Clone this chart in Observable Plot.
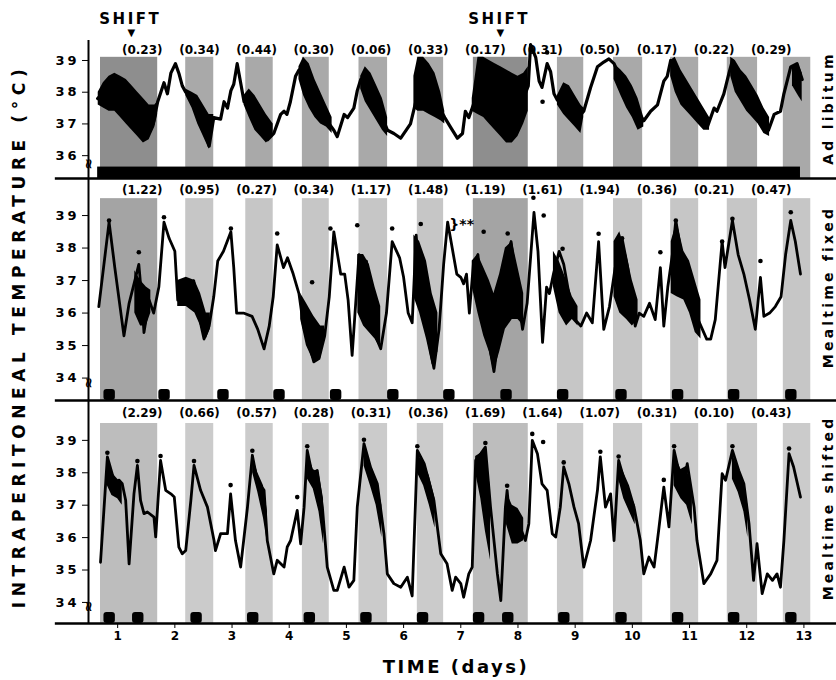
<!DOCTYPE html>
<html><head><meta charset="utf-8">
<script src="https://cdn.jsdelivr.net/npm/d3@7"></script>
<script src="https://cdn.jsdelivr.net/npm/@observablehq/plot@0.6"></script>
<style>
body{margin:0;background:#fff;}
#chart{position:relative;width:836px;height:680px;overflow:hidden;font-family:"DejaVu Sans",sans-serif;background:#fff;}
.panel{position:absolute;left:0;}
.vlabel{position:absolute;white-space:nowrap;font-weight:bold;transform:translate(-50%,-50%) rotate(-90deg);color:#000;}
.hlabel{position:absolute;white-space:nowrap;font-weight:bold;transform:translate(-50%,-50%);color:#000;}
</style>
</head><body>
<div id="chart">
  <div id="p1" class="panel" style="top:0px"></div>
  <div id="p2" class="panel" style="top:176px"></div>
  <div id="p3" class="panel" style="top:398px"></div>
  <div id="ytitle" class="vlabel" style="left:19px;top:336px;font-size:17px;letter-spacing:5.6px"></div>
  <div id="xtitle" class="hlabel" style="left:456px;top:666px;font-size:18px;letter-spacing:2.5px"></div>
  <div id="n1" class="vlabel" style="left:828px;top:108px;font-size:14px;letter-spacing:3.2px"></div>
  <div id="n2" class="vlabel" style="left:828px;top:287px;font-size:14px;letter-spacing:3.2px"></div>
  <div id="n3" class="vlabel" style="left:828px;top:508px;font-size:14px;letter-spacing:3.2px"></div>
</div>
<script>
// ---------------- data ----------------
const yTitle = "INTRAPERITONEAL TEMPERATURE (°C)";
const xTitle = "TIME (days)";
const panelNames = ["Ad libitum", "Mealtime fixed", "Mealtime shifted"];
const xTicks = [1,2,3,4,5,6,7,8,9,10,11,12,13];
const p1Ticks = [36,37,38,39];
const p23Ticks = [34,35,36,37,38,39];
const shiftDays = [1.22, 7.67];
const nightBands = [[0.70,1.70],[2.19,2.68],[3.24,3.72],[4.23,4.70],[5.22,5.72],[6.24,6.70],[7.22,8.18],[8.69,9.15],[9.67,10.18],[10.67,11.16],[11.66,12.19],[12.64,13.12]];
const ratioDays = [1,2,3,4,5,6,7,8,9,10,11,12];
const p1Ratios = ["(0.23)","(0.34)","(0.44)","(0.30)","(0.06)","(0.33)","(0.17)","(0.31)","(0.50)","(0.17)","(0.22)","(0.29)"];
const p2Ratios = ["(1.22)","(0.95)","(0.27)","(0.34)","(1.17)","(1.48)","(1.19)","(1.61)","(1.94)","(0.36)","(0.21)","(0.47)"];
const p3Ratios = ["(2.29)","(0.66)","(0.57)","(0.28)","(0.31)","(0.36)","(1.69)","(1.64)","(1.07)","(0.31)","(0.10)","(0.43)"];
const p1Feeding = [[0.65, 12.94]];
const p2Meals = [0.76,1.72,2.75,3.73,4.72,5.72,6.70,7.70,8.69,9.71,10.70,11.68,12.68];
const p3Meals = [0.76,1.26,2.28,3.27,4.26,5.25,6.24,7.22,7.73,8.71,9.71,10.70,11.68,12.68];

const p1Temp = [[0.65,37.8],[0.8,38.1],[1.0,38.0],[1.2,37.6],[1.4,37.0],[1.5,36.6],[1.62,37.0],[1.70,37.7],[1.81,38.3],[1.87,37.95],[1.93,38.6],[2.01,38.9],[2.07,38.6],[2.13,38.2],[2.19,38.0],[2.3,37.8],[2.4,37.5],[2.5,37.0],[2.6,36.3],[2.68,37.2],[2.80,37.15],[2.86,37.7],[2.92,37.5],[2.98,38.05],[3.03,38.25],[3.09,38.9],[3.14,38.4],[3.21,37.7],[3.35,37.6],[3.5,37.1],[3.62,36.5],[3.73,36.7],[3.85,37.3],[3.91,37.4],[3.96,37.3],[4.02,37.7],[4.11,38.5],[4.17,38.7],[4.25,38.8],[4.4,38.2],[4.55,37.6],[4.7,37.0],[4.78,36.8],[4.84,36.6],[4.96,37.3],[5.02,37.2],[5.13,37.5],[5.19,38.05],[5.25,38.4],[5.35,38.5],[5.5,37.8],[5.65,37.1],[5.72,36.8],[5.83,36.7],[5.95,36.55],[6.12,37.0],[6.2,37.6],[6.3,38.4],[6.45,38.2],[6.6,37.6],[6.72,37.2],[6.82,36.9],[6.94,36.55],[7.03,36.7],[7.08,37.4],[7.14,37.2],[7.2,37.5],[7.35,38.3],[7.55,37.8],[7.75,37.2],[7.9,37.1],[8.05,37.6],[8.18,38.2],[8.22,39.5],[8.31,39.1],[8.37,38.35],[8.42,38.15],[8.51,38.9],[8.57,38.65],[8.63,37.95],[8.69,37.75],[8.85,37.6],[9.05,37.2],[9.15,37.4],[9.27,38.15],[9.39,38.8],[9.5,38.95],[9.59,39.05],[9.68,38.9],[9.85,38.2],[10.05,37.5],[10.2,37.1],[10.32,37.4],[10.44,37.6],[10.55,38.35],[10.61,38.5],[10.67,39.0],[10.8,38.5],[11.0,37.9],[11.2,37.3],[11.31,36.9],[11.43,37.5],[11.48,37.4],[11.6,37.95],[11.69,38.6],[11.75,39.0],[11.9,38.3],[12.1,37.7],[12.3,37.1],[12.38,36.8],[12.48,37.3],[12.59,37.4],[12.65,37.95],[12.77,38.8],[12.88,38.9],[12.97,38.4]];
const p1Blobs = [
  [[0.66,37.6,38.0],[0.75,37.5,38.3],[0.85,37.4,38.5],[0.95,37.4,38.6],[1.05,37.2,38.5],[1.15,37.0,38.4],[1.25,36.8,38.2],[1.35,36.6,38.0],[1.45,36.4,37.8],[1.55,36.5,37.6],[1.65,36.9,37.6],[1.70,37.3,37.7]],
  [[2.19,37.9,38.1],[2.3,37.5,38.0],[2.4,37.0,37.9],[2.5,36.6,37.6],[2.6,36.2,37.3],[2.68,37.0,37.3]],
  [[3.21,37.6,37.9],[3.3,37.2,38.1],[3.4,36.8,37.9],[3.5,36.6,37.6],[3.6,36.4,37.3],[3.72,36.6,37.0]],
  [[4.17,38.4,38.8],[4.25,37.9,39.1],[4.35,37.5,38.9],[4.45,37.2,38.4],[4.55,37.0,38.0],[4.65,36.9,37.6],[4.75,36.7,37.2]],
  [[5.25,38.1,38.5],[5.33,37.7,38.8],[5.43,37.4,38.6],[5.53,37.1,38.2],[5.63,36.8,37.8],[5.72,36.6,37.2]],
  [[6.18,37.5,38.5],[6.25,37.4,39.1],[6.35,37.4,39.1],[6.45,37.3,38.9],[6.55,37.2,38.6],[6.65,37.1,38.0],[6.72,37.0,37.4]],
  [[7.2,37.4,37.8],[7.3,37.3,39.1],[7.4,37.2,39.1],[7.5,37.0,39.0],[7.6,36.8,38.9],[7.7,36.6,38.8],[7.8,36.4,38.7],[7.9,36.4,38.6],[8.0,36.6,38.5],[8.1,37.0,38.6],[8.18,37.4,38.8]],
  [[8.69,37.6,37.9],[8.8,37.3,38.3],[8.9,37.1,38.2],[9.0,36.9,37.9],[9.1,36.7,37.6],[9.15,37.2,37.5]],
  [[9.68,38.4,38.9],[9.8,37.9,38.7],[9.9,37.5,38.5],[10.0,37.2,38.2],[10.1,36.8,37.8],[10.2,36.9,37.2]],
  [[10.67,38.5,39.0],[10.75,38.0,39.1],[10.85,37.6,38.7],[10.95,37.4,38.4],[11.05,37.2,38.1],[11.15,37.0,37.8],[11.25,36.8,37.5],[11.35,36.8,37.2]],
  [[11.72,38.5,39.1],[11.8,38.0,39.0],[11.9,37.7,38.7],[12.0,37.4,38.5],[12.1,37.2,38.2],[12.2,37.0,37.9],[12.3,36.7,37.5],[12.4,36.6,37.2]],
  [[12.8,38.2,38.8],[12.9,37.9,38.9],[12.97,37.7,38.6]]
];
const p1Stars = [[8.51,39.25],[8.43,37.7]];

const p2Temp = [[0.67,36.2],[0.85,38.8],[0.95,37.4],[1.11,35.3],[1.2,36.3],[1.3,37.0],[1.37,37.5],[1.42,36.5],[1.46,35.4],[1.55,36.4],[1.63,36.0],[1.72,36.8],[1.81,38.8],[1.9,38.3],[2.0,37.9],[2.05,36.4],[2.1,36.9],[2.15,36.3],[2.2,37.0],[2.27,36.4],[2.33,37.0],[2.4,36.2],[2.46,35.6],[2.51,35.2],[2.6,35.6],[2.68,36.5],[2.75,37.6],[2.85,37.9],[2.98,38.5],[3.03,37.4],[3.08,36.0],[3.2,36.0],[3.35,35.9],[3.45,35.5],[3.56,34.9],[3.65,35.6],[3.72,36.5],[3.79,38.1],[3.9,37.4],[3.97,37.7],[4.07,37.2],[4.17,36.6],[4.25,35.6],[4.35,35.0],[4.43,34.5],[4.52,34.6],[4.62,35.3],[4.7,36.5],[4.78,38.5],[4.9,37.2],[4.97,37.2],[5.03,36.4],[5.1,34.7],[5.17,36.5],[5.22,37.8],[5.3,36.0],[5.35,37.6],[5.45,36.0],[5.53,35.2],[5.6,34.9],[5.7,36.0],[5.8,38.2],[5.93,37.7],[6.0,37.1],[6.08,36.0],[6.15,35.7],[6.22,38.4],[6.3,36.5],[6.4,35.5],[6.53,34.3],[6.62,35.5],[6.7,37.5],[6.77,38.8],[6.85,38.0],[6.93,37.2],[7.0,37.1],[7.05,36.9],[7.1,37.2],[7.15,36.0],[7.22,37.5],[7.3,37.8],[7.4,36.0],[7.5,35.0],[7.58,34.2],[7.68,35.5],[7.78,37.6],[7.88,38.2],[8.0,36.5],[8.08,35.5],[8.16,36.3],[8.28,39.1],[8.35,37.9],[8.43,35.1],[8.5,36.8],[8.55,36.6],[8.62,37.2],[8.72,37.9],[8.8,37.5],[8.9,36.5],[9.0,35.8],[9.1,35.6],[9.2,36.0],[9.3,35.7],[9.41,38.2],[9.5,35.5],[9.6,36.2],[9.7,37.4],[9.82,38.3],[9.92,37.4],[10.05,35.6],[10.12,36.0],[10.2,35.9],[10.3,36.3],[10.4,35.8],[10.49,37.4],[10.55,35.6],[10.62,36.8],[10.7,37.8],[10.76,38.85],[10.85,37.9],[10.95,37.3],[11.05,36.5],[11.15,35.8],[11.3,35.2],[11.37,35.2],[11.45,35.8],[11.57,38.2],[11.62,37.4],[11.75,38.85],[11.85,37.8],[11.95,37.2],[12.05,36.4],[12.15,35.5],[12.24,37.1],[12.3,35.9],[12.4,36.0],[12.5,36.2],[12.6,36.5],[12.68,37.8],[12.77,38.85],[12.85,38.2],[12.94,37.2]];
const p2Blobs = [
  [[1.3,36.0,37.3],[1.4,35.6,37.0],[1.5,35.6,36.8],[1.58,36.0,36.7]],
  [[2.05,36.2,37.0],[2.2,36.2,37.1],[2.35,36.0,37.0],[2.45,35.6,36.6],[2.55,35.2,36.0],[2.62,35.5,36.0]],
  [[4.2,35.8,36.6],[4.3,35.0,36.3],[4.43,34.5,35.9],[4.55,34.6,35.6],[4.62,35.2,35.6]],
  [[5.2,36.0,37.8],[5.3,35.6,37.8],[5.4,35.4,37.5],[5.5,35.2,36.8],[5.6,34.9,36.2]],
  [[6.18,36.5,38.4],[6.28,36.0,38.2],[6.4,35.2,37.6],[6.5,34.4,36.6],[6.6,34.8,36.0]],
  [[7.2,36.8,37.6],[7.3,36.0,37.8],[7.4,35.3,37.4],[7.5,34.8,37.0],[7.58,34.2,36.6],[7.68,34.8,37.2],[7.78,35.5,38.0],[7.9,35.8,38.2],[8.0,35.8,37.4],[8.1,35.6,36.6]],
  [[8.62,36.8,37.9],[8.72,36.0,37.6],[8.85,35.6,37.0],[8.95,35.8,36.5],[9.05,35.6,36.2]],
  [[9.68,36.5,38.2],[9.78,36.0,38.5],[9.9,35.8,37.8],[10.0,35.6,37.0],[10.1,35.8,36.4]],
  [[10.68,36.6,38.2],[10.78,36.5,38.8],[10.9,36.4,37.9],[11.0,36.0,37.6],[11.1,35.4,37.0],[11.2,35.2,36.4]]
];
const p2Stars = [[0.85,38.85],[1.37,37.87],[1.81,38.95],[2.98,38.6],[3.79,38.45],[4.40,36.95],[4.72,38.6],[5.19,38.7],[5.80,38.6],[6.30,38.74],[7.40,38.5],[7.82,38.45],[8.27,39.55],[8.45,39.0],[8.78,37.98],[9.41,38.44],[9.82,38.3],[10.49,37.87],[10.76,38.85],[11.57,38.2],[11.75,38.9],[12.24,37.6],[12.77,39.1]];
const p2Note = [{d: 6.8, t: 38.72, label: "}**"}];

const p3Temp = [[0.70,35.24],[0.82,38.49],[0.935,37.77],[0.995,37.35],[1.025,37.77],[1.08,37.66],[1.14,37.15],[1.20,35.19],[1.285,37.35],[1.345,38.23],[1.40,37.15],[1.46,36.74],[1.52,36.79],[1.635,36.63],[1.665,36.02],[1.75,38.38],[1.84,37.46],[1.93,37.35],[1.99,37.25],[2.07,35.71],[2.13,35.5],[2.19,35.6],[2.28,37.15],[2.335,38.23],[2.45,37.46],[2.57,36.94],[2.685,35.91],[2.71,35.6],[2.80,36.12],[2.92,36.12],[2.975,37.35],[3.06,35.91],[3.15,35.09],[3.27,36.94],[3.355,38.54],[3.44,37.77],[3.56,37.46],[3.616,35.91],[3.73,34.88],[3.79,35.3],[3.91,35.09],[3.965,35.71],[4.025,35.91],[4.14,36.84],[4.2,35.81],[4.26,36.94],[4.315,38.69],[4.40,37.97],[4.49,38.07],[4.58,36.94],[4.665,35.09],[4.78,34.37],[4.84,34.37],[4.96,35.09],[5.045,34.47],[5.13,34.68],[5.19,36.94],[5.307,38.9],[5.42,38.18],[5.54,37.66],[5.656,36.12],[5.715,34.88],[5.83,34.58],[5.95,34.47],[6.065,34.78],[6.15,34.2],[6.24,38.69],[6.36,38.28],[6.53,37.15],[6.65,35.5],[6.76,35.19],[6.85,34.37],[6.91,34.78],[7.0,34.58],[7.05,34.16],[7.14,34.88],[7.2,35.09],[7.26,38.38],[7.35,38.59],[7.43,38.79],[7.52,36.94],[7.64,34.88],[7.7,34.06],[7.78,36.94],[7.81,37.46],[7.87,36.33],[7.99,36.53],[8.13,35.91],[8.19,36.43],[8.25,39.0],[8.34,38.59],[8.42,37.66],[8.51,37.46],[8.6,36.12],[8.66,36.02],[8.74,36.94],[8.8,38.18],[8.89,37.66],[8.98,36.94],[9.06,36.43],[9.15,35.09],[9.27,35.91],[9.39,37.46],[9.44,38.49],[9.53,36.94],[9.62,37.35],[9.68,35.91],[9.76,38.38],[9.91,37.46],[10.03,36.94],[10.14,35.91],[10.2,34.88],[10.29,35.4],[10.38,35.09],[10.46,36.22],[10.55,37.56],[10.64,36.33],[10.73,38.69],[10.81,38.07],[10.9,37.66],[10.96,38.28],[11.08,36.94],[11.13,35.91],[11.25,34.58],[11.37,34.88],[11.48,35.3],[11.57,37.97],[11.63,37.77],[11.75,38.69],[11.86,38.07],[11.95,37.66],[12.04,36.43],[12.12,34.68],[12.18,35.81],[12.27,34.27],[12.36,34.88],[12.45,34.68],[12.53,34.88],[12.59,34.47],[12.65,35.91],[12.74,38.59],[12.82,38.18],[12.94,37.25]];
const p3Blobs = [
  [[0.82,37.6,38.4],[0.9,37.3,38.0],[1.0,37.2,37.8],[1.08,37.0,37.7]],
  [[3.36,38.0,38.5],[3.45,37.4,38.0],[3.55,36.6,37.6],[3.62,35.8,36.8]],
  [[4.32,37.8,38.6],[4.42,37.5,38.1],[4.52,36.8,38.0],[4.6,35.8,37.2]],
  [[5.31,38.2,38.8],[5.42,37.6,38.3],[5.52,37.0,37.8],[5.62,36.0,37.0]],
  [[6.24,38.0,38.6],[6.35,37.6,38.3],[6.45,37.0,37.9],[6.55,36.3,37.2]],
  [[7.26,38.0,38.5],[7.35,37.2,38.6],[7.43,36.2,38.7],[7.52,35.3,37.5]],
  [[7.8,36.4,37.4],[7.9,35.8,37.0],[8.0,35.8,36.9],[8.1,35.9,36.6]],
  [[9.76,37.8,38.4],[9.85,37.2,38.0],[9.95,36.8,37.6],[10.05,36.4,37.0]],
  [[10.73,37.6,38.6],[10.85,37.2,38.1],[10.95,37.0,38.2],[11.05,36.4,37.4]],
  [[11.75,37.8,38.6],[11.85,37.4,38.1],[11.95,36.8,37.7],[12.02,36.0,37.0]]
];
const p3Stars = [[0.82,38.62],[1.345,38.36],[1.75,38.52],[2.335,38.36],[2.975,37.62],[3.355,38.68],[4.14,37.25],[4.315,38.82],[5.307,39.02],[6.24,38.82],[7.43,38.92],[7.81,37.6],[8.25,39.2],[8.44,38.95],[8.8,38.32],[9.44,38.65],[9.76,38.5],[10.55,37.78],[10.73,38.82],[11.75,38.82],[12.74,38.75]];

// ---------------- drawing ----------------
const X0 = 0.49, X1 = 13.465;
const FONT = "DejaVu Sans";

function panel(o) {
  const [lo, hi] = o.domain;
  const narrow = nightBands.filter(([a, b]) => b - a < 0.8);
  const wide = nightBands.filter(([a, b]) => b - a >= 0.8);
  const blobRows = o.blobs.flatMap((blob, i) => blob.map(([d, l, h]) => ({d, l, h, id: i})));
  const marks = [
    Plot.rect(narrow, {x1: d => d[0], x2: d => d[1], y1: lo, y2: o.bandTop, fill: o.shade}),
    Plot.rect(wide, {x1: d => d[0], x2: d => d[1], y1: lo, y2: o.bandTop, fill: o.shadeWide}),
    ...(o.pre || []),
    Plot.areaY(blobRows, {x: "d", y1: "l", y2: "h", z: "id", fill: "black"}),
    Plot.line(o.temps, {x: d => d[0], y: d => d[1], stroke: "black", strokeWidth: o.sw, strokeLinejoin: "round", strokeLinecap: "round"}),
    Plot.dot(o.stars, {x: d => d[0], y: d => d[1], r: 2.3, fill: "black"}),
    Plot.text(o.ratios, {x: (d, i) => ratioDays[i] + 0.43, y: o.ratioY, text: d => d, fontSize: 12, fontWeight: "bold"}),
    Plot.ruleY([lo], {x1: -0.09, x2: 13.62, stroke: "black", strokeWidth: 2.5}),
    Plot.ruleX([X0], {y1: lo, y2: hi, stroke: "black", strokeWidth: 2}),
    Plot.text([X0], {x: d => d, y: o.breakY, text: () => "≈", rotate: -90, fontSize: 14, fontWeight: "bold"}),
    Plot.axisY(o.ticks, {tickSize: 6, tickPadding: 3, fontSize: 13, fontWeight: "bold", label: null, tickFormat: d => String(d)}),
    ...(o.extra || [])
  ];
  const svg = Plot.plot({
    width: 836, height: o.height,
    marginLeft: 88, marginRight: 6, marginTop: o.mt, marginBottom: o.mb,
    x: o.showX ? {domain: [X0, X1]} : {domain: [X0, X1], axis: null},
    y: {domain: [lo, hi]},
    style: {overflow: "visible", fontFamily: FONT, background: "transparent", color: "black"},
    marks
  });
  svg.querySelectorAll('[aria-label="y-axis tick label"] text').forEach(t => t.setAttribute("letter-spacing", "3"));
  svg.querySelectorAll("text").forEach(t => { if (t.textContent === "SHIFT") t.setAttribute("letter-spacing", "2.5"); });
  return svg;
}

const d1 = [35.28, 39.63];
document.getElementById("p1").appendChild(panel({
  domain: d1, height: 180, mt: 40, mb: 2, ticks: p1Ticks,
  temps: p1Temp, blobs: p1Blobs, stars: p1Stars, ratios: p1Ratios,
  ratioY: 39.32, bandTop: 39.1, breakY: 35.75, sw: 3.2,
  shade: "#a9a9a9", shadeWide: "#8e8e8e",
  pre: [Plot.rect(p1Feeding, {x1: d => d[0], x2: d => d[1], y1: d1[0], y2: d1[0] + 0.36, fill: "black"})],
  extra: [
    Plot.text(shiftDays, {x: d => d, y: 40.3, text: () => "SHIFT", fontSize: 15, fontWeight: "bold"}),
    Plot.text(shiftDays, {x: d => d + 0.02, y: 39.86, text: () => "▼", fontSize: 10})
  ]
}));

const d2 = [33.31, 40.14];
document.getElementById("p2").appendChild(panel({
  domain: d2, height: 226, mt: 2, mb: 2, ticks: p23Ticks,
  temps: p2Temp, blobs: p2Blobs, stars: p2Stars, ratios: p2Ratios,
  ratioY: 39.77, bandTop: 39.52, breakY: 33.86, sw: 2.8,
  shade: "#c6c6c6", shadeWide: "#a4a4a4",
  pre: [Plot.rect(p2Meals, {x1: d => d, x2: d => d + 0.2, y1: d2[0], y2: d2[0] + 0.34, fill: "black", rx: 3})],
  extra: [Plot.text(p2Note, {x: "d", y: "t", text: "label", textAnchor: "start", fontSize: 14, fontWeight: "bold"})]
}));

const d3v = [33.35, 40.23];
document.getElementById("p3").appendChild(panel({
  domain: d3v, height: 282, mt: 2, mb: 57, ticks: p23Ticks, showX: true,
  temps: p3Temp, blobs: p3Blobs, stars: p3Stars, ratios: p3Ratios,
  ratioY: 39.83, bandTop: 39.52, breakY: 33.88, sw: 2.8,
  shade: "#cbcbcb", shadeWide: "#bdbdbd",
  pre: [Plot.rect(p3Meals, {x1: d => d, x2: d => d + 0.2, y1: d3v[0], y2: d3v[0] + 0.34, fill: "black", rx: 3})],
  extra: [Plot.axisX(xTicks, {tickSize: 5, tickPadding: 3, fontSize: 12, fontWeight: "bold", label: null})]
}));

document.getElementById("ytitle").textContent = yTitle;
document.getElementById("xtitle").textContent = xTitle;
["n1","n2","n3"].forEach((id, i) => document.getElementById(id).textContent = panelNames[i]);
</script>
</body></html>
